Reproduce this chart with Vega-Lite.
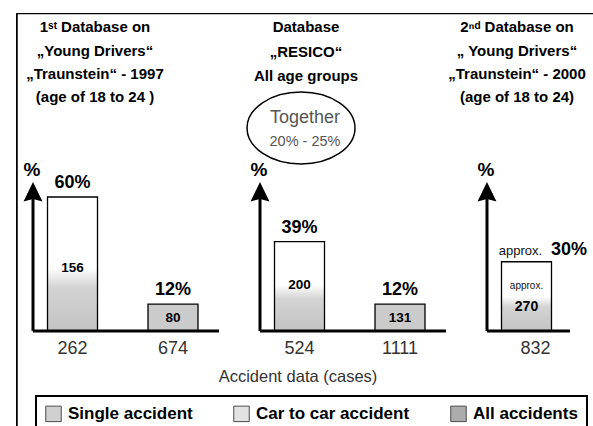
{
  "$schema": "https://vega.github.io/schema/vega-lite/v6.json",
  "autosize": {"type": "none"},
  "padding": {"left": 14, "top": 13, "right": 0, "bottom": 0},
  "width": 581,
  "height": 415,
  "background": "#ffffff",
  "datasets": {
    "bars": [
      {"panel": "P1", "slot": "a", "cases": "262", "pct": 60, "label": "60%", "n": "156", "shade": 28.2},
      {"panel": "P1", "slot": "b", "cases": "674", "pct": 12, "label": "12%", "n": "80", "shade": 12},
      {"panel": "P2", "slot": "a", "cases": "524", "pct": 40, "label": "39%", "n": "200", "shade": 20.6},
      {"panel": "P2", "slot": "b", "cases": "1111", "pct": 12, "label": "12%", "n": "131", "shade": 12},
      {"panel": "P3", "slot": "a", "cases": "832", "pct": 31, "label": "30%", "n": "270", "shade": 15.45}
    ],
    "panels": [{"panel": "P1"}, {"panel": "P2"}, {"panel": "P3"}]
  },
  "encoding": {
    "x": {"field": "panel", "type": "nominal", "axis": null,
      "scale": {"type": "band", "domain": ["P1", "P2", "P3"], "range": [2, 659], "paddingInner": 0.1057, "paddingOuter": 0}}
  },
  "layer": [
    {
      "data": {"values": [{"panel": "P1", "to": "P3"}]},
      "mark": {"type": "rect", "fillOpacity": 0, "stroke": "#000000", "strokeWidth": 1.3},
      "encoding": {
        "x": {"field": "panel", "type": "nominal", "bandPosition": 0.004},
        "x2": {"field": "to", "bandPosition": 1},
        "y": {"datum": -60, "type": "quantitative", "axis": null, "scale": {"domain": [-43.44, 142.4], "nice": false, "zero": false}},
        "y2": {"datum": 142.1}
      }
    },
    {
      "data": {"values": [{"panel": "P1"}]},
      "mark": {"type": "rule", "stroke": "#000000", "strokeWidth": 1.5},
      "encoding": {
        "x": {"field": "panel", "type": "nominal", "bandPosition": 0.004},
        "y": {"datum": -43, "type": "quantitative"},
        "y2": {"datum": 142.1}
      }
    },
    {
      "data": {"name": "bars"},
      "transform": [{"filter": "datum.pct > 20"}],
      "mark": {"type": "bar", "fill": {"gradient": "linear", "x1": 0, "y1": 0, "x2": 0, "y2": 1,
        "stops": [{"offset": 0, "color": "#ffffff"}, {"offset": 0.3, "color": "#d4d4d4"}, {"offset": 1, "color": "#c3c3c3"}]}},
      "encoding": {
        "xOffset": {"field": "slot", "type": "nominal", "scale": {"domain": ["a", "b"], "paddingInner": 0.5025, "paddingOuter": 0.2612, "align": 0.6}},
        "y": {"field": "shade", "type": "quantitative", "axis": null, "scale": {"domain": [-43.44, 142.4], "nice": false, "zero": false}},
        "y2": {"datum": 0}
      }
    },
    {
      "data": {"name": "bars"},
      "transform": [{"filter": "datum.pct <= 20"}],
      "mark": {"type": "bar", "fill": "#cbcbcb"},
      "encoding": {
        "xOffset": {"field": "slot", "type": "nominal"},
        "y": {"field": "pct", "type": "quantitative", "axis": null, "scale": {"domain": [-43.44, 142.4], "nice": false, "zero": false}},
        "y2": {"datum": 0}
      }
    },
    {
      "data": {"name": "bars"},
      "mark": {"type": "bar", "fillOpacity": 0, "stroke": "#000000", "strokeWidth": 1.3},
      "encoding": {
        "xOffset": {"field": "slot", "type": "nominal"},
        "y": {"field": "pct", "type": "quantitative", "axis": null, "scale": {"domain": [-43.44, 142.4], "nice": false, "zero": false}},
        "y2": {"datum": 0}
      }
    },
    {
      "data": {"name": "panels"},
      "transform": [{"filter": "datum.panel != 'P3'"}],
      "mark": {"type": "rule", "stroke": "#000000", "strokeWidth": 3},
      "encoding": {
        "x": {"field": "panel", "type": "nominal", "bandPosition": 0.08374},
        "x2": {"field": "panel", "bandPosition": 1},
        "y": {"datum": 0, "type": "quantitative"}
      }
    },
    {
      "data": {"name": "panels"},
      "transform": [{"filter": "datum.panel == 'P3'"}],
      "mark": {"type": "rule", "stroke": "#000000", "strokeWidth": 3},
      "encoding": {
        "x": {"field": "panel", "type": "nominal", "bandPosition": 0.08374},
        "x2": {"field": "panel", "bandPosition": 0.4926},
        "y": {"datum": 0, "type": "quantitative"}
      }
    },
    {
      "data": {"name": "panels"},
      "mark": {"type": "rule", "stroke": "#000000", "strokeWidth": 3},
      "encoding": {
        "x": {"field": "panel", "type": "nominal", "bandPosition": 0.08374},
        "y": {"datum": 0, "type": "quantitative"},
        "y2": {"datum": 62}
      }
    },
    {
      "data": {"name": "panels"},
      "mark": {"type": "point", "shape": "M0,-1L0.95,0.95L0,0.7L-0.95,0.95Z", "size": 400, "filled": true, "fill": "#000000", "opacity": 1, "strokeWidth": 0},
      "encoding": {
        "x": {"field": "panel", "type": "nominal", "bandPosition": 0.08374},
        "y": {"datum": 62.25, "type": "quantitative"}
      }
    },
    {
      "data": {"name": "panels"},
      "mark": {"type": "text", "text": "%", "font": "Liberation Sans", "fontSize": 19, "fontWeight": "bold", "baseline": "middle", "dx": -1, "color": "#000000"},
      "encoding": {
        "x": {"field": "panel", "type": "nominal", "bandPosition": 0.08374},
        "y": {"datum": 72.1, "type": "quantitative"}
      }
    },
    {
      "data": {"name": "bars"},
      "transform": [{"filter": "datum.panel != 'P3'"}],
      "mark": {"type": "text", "font": "Liberation Sans", "fontSize": 18, "fontWeight": "bold", "baseline": "middle", "dy": -14, "color": "#000000"},
      "encoding": {
        "xOffset": {"field": "slot", "type": "nominal"},
        "y": {"field": "pct", "type": "quantitative"},
        "text": {"field": "label"}
      }
    },
    {
      "data": {"name": "bars"},
      "transform": [{"filter": "datum.panel == 'P3'"}],
      "mark": {"type": "text", "font": "Liberation Sans", "fontSize": 18, "fontWeight": "bold", "baseline": "alphabetic", "dy": -6.3, "dx": 42.5, "color": "#000000"},
      "encoding": {
        "xOffset": {"field": "slot", "type": "nominal"},
        "y": {"field": "pct", "type": "quantitative"},
        "text": {"field": "label"}
      }
    },
    {
      "data": {"name": "bars"},
      "transform": [{"filter": "datum.panel == 'P3'"}],
      "mark": {"type": "text", "text": "approx.", "font": "Liberation Sans", "fontSize": 13, "baseline": "alphabetic", "dy": -6.3, "dx": -6, "color": "#111111"},
      "encoding": {
        "xOffset": {"field": "slot", "type": "nominal"},
        "y": {"field": "pct", "type": "quantitative"}
      }
    },
    {
      "data": {"name": "bars"},
      "transform": [{"filter": "datum.pct > 20 && datum.panel != 'P3'"}],
      "mark": {"type": "text", "font": "Liberation Sans", "fontSize": 13.5, "fontWeight": "bold", "baseline": "middle", "color": "#000000"},
      "encoding": {
        "xOffset": {"field": "slot", "type": "nominal"},
        "y": {"field": "shade", "type": "quantitative"},
        "text": {"field": "n"}
      }
    },
    {
      "data": {"name": "bars"},
      "transform": [{"filter": "datum.pct <= 20"}],
      "mark": {"type": "text", "font": "Liberation Sans", "fontSize": 13.5, "fontWeight": "bold", "baseline": "middle", "dy": 14, "color": "#000000"},
      "encoding": {
        "xOffset": {"field": "slot", "type": "nominal"},
        "y": {"field": "pct", "type": "quantitative"},
        "text": {"field": "n"}
      }
    },
    {
      "data": {"name": "bars"},
      "transform": [{"filter": "datum.panel == 'P3'"}],
      "mark": {"type": "text", "font": "Liberation Sans", "fontSize": 14, "fontWeight": "bold", "baseline": "middle", "dy": 10.5, "color": "#000000"},
      "encoding": {
        "xOffset": {"field": "slot", "type": "nominal"},
        "y": {"field": "shade", "type": "quantitative"},
        "text": {"field": "n"}
      }
    },
    {
      "data": {"name": "bars"},
      "transform": [{"filter": "datum.panel == 'P3'"}],
      "mark": {"type": "text", "text": "approx.", "font": "Liberation Sans", "fontSize": 10, "baseline": "middle", "dy": -10.5, "color": "#111111"},
      "encoding": {
        "xOffset": {"field": "slot", "type": "nominal"},
        "y": {"field": "shade", "type": "quantitative"}
      }
    },
    {
      "data": {"name": "bars"},
      "transform": [{"filter": "datum.panel != 'P3'"}],
      "mark": {"type": "text", "font": "Liberation Sans", "fontSize": 18, "baseline": "middle", "color": "#333333"},
      "encoding": {
        "xOffset": {"field": "slot", "type": "nominal"},
        "y": {"datum": -8.06, "type": "quantitative"},
        "text": {"field": "cases"}
      }
    },
    {
      "data": {"name": "bars"},
      "transform": [{"filter": "datum.panel == 'P3'"}],
      "mark": {"type": "text", "font": "Liberation Sans", "fontSize": 18, "baseline": "middle", "dx": 9, "color": "#333333"},
      "encoding": {
        "xOffset": {"field": "slot", "type": "nominal"},
        "y": {"datum": -8.06, "type": "quantitative"},
        "text": {"field": "cases"}
      }
    },
    {
      "data": {"values": [{"panel": "P1"}]},
      "mark": {"type": "text", "text": ["1ˢᵗ Database on", "„Young Drivers“", "„Traunstein“ - 1997", "(age of 18 to 24 )"], "font": "Liberation Sans", "fontSize": 15, "fontWeight": "bold", "baseline": "alphabetic", "lineHeight": 23.3, "color": "#000000"},
      "encoding": {
        "x": {"field": "panel", "type": "nominal", "bandPosition": 0.389},
        "y": {"datum": 133.68, "type": "quantitative"}
      }
    },
    {
      "data": {"values": [{"panel": "P2"}]},
      "mark": {"type": "text", "text": ["Database", "„RESICO“", "All age groups"], "font": "Liberation Sans", "fontSize": 15, "fontWeight": "bold", "baseline": "alphabetic", "lineHeight": 24.5, "color": "#000000"},
      "encoding": {
        "x": {"field": "panel", "type": "nominal", "bandPosition": 0.3103},
        "y": {"datum": 133.68, "type": "quantitative"}
      }
    },
    {
      "data": {"values": [{"panel": "P3"}]},
      "mark": {"type": "text", "text": ["2ⁿᵈ Database on", "„ Young Drivers“", "„Traunstein“ - 2000", "(age of 18 to 24)"], "font": "Liberation Sans", "fontSize": 15, "fontWeight": "bold", "baseline": "alphabetic", "lineHeight": 23.3, "color": "#000000"},
      "encoding": {
        "x": {"field": "panel", "type": "nominal", "bandPosition": 0.2315},
        "y": {"datum": 133.68, "type": "quantitative"}
      }
    },
    {
      "data": {"values": [{"panel": "P2"}]},
      "mark": {"type": "point", "shape": "M-1,0C-1,-0.368,-0.552,-0.667,0,-0.667C0.552,-0.667,1,-0.368,1,0C1,0.368,0.552,0.667,0,0.667C-0.552,0.667,-1,0.368,-1,0Z", "size": 11664, "filled": false, "stroke": "#000000", "strokeWidth": 1.5, "opacity": 1},
      "encoding": {
        "x": {"field": "panel", "type": "nominal", "bandPosition": 0.2857},
        "y": {"datum": 90.9, "type": "quantitative"}
      }
    },
    {
      "data": {"values": [{"panel": "P2"}]},
      "mark": {"type": "text", "text": "Together", "font": "Liberation Sans", "fontSize": 18, "baseline": "middle", "color": "#555555"},
      "encoding": {
        "x": {"field": "panel", "type": "nominal", "bandPosition": 0.3054},
        "y": {"datum": 95.4, "type": "quantitative"}
      }
    },
    {
      "data": {"values": [{"panel": "P2"}]},
      "mark": {"type": "text", "text": "20% - 25%", "font": "Liberation Sans", "fontSize": 14.5, "baseline": "middle", "color": "#555555"},
      "encoding": {
        "x": {"field": "panel", "type": "nominal", "bandPosition": 0.3054},
        "y": {"datum": 84.6, "type": "quantitative"}
      }
    },
    {
      "data": {"values": [{"panel": "P2"}]},
      "mark": {"type": "text", "text": "Accident data (cases)", "font": "Liberation Sans", "fontSize": 16.5, "baseline": "middle", "color": "#333333"},
      "encoding": {
        "x": {"field": "panel", "type": "nominal", "bandPosition": 0.2709},
        "y": {"datum": -20.6, "type": "quantitative"}
      }
    },
    {
      "data": {"values": [{"type": "Single accident"}, {"type": "Car to car accident"}, {"type": "All accidents"}]},
      "mark": {"type": "point", "shape": "square", "filled": true, "clip": true, "stroke": "#000000", "strokeWidth": 1},
      "encoding": {
        "x": {"datum": "P1", "type": "nominal"},
        "y": {"datum": -60, "type": "quantitative"},
        "color": {"field": "type", "type": "nominal",
          "scale": {"domain": ["Single accident", "Car to car accident", "All accidents"], "range": ["#bdbdbd", "#d6d6d6", "#8a8a8a"]},
          "legend": {"title": null, "orient": "none", "legendX": 22, "legendY": 383, "direction": "horizontal",
            "symbolType": "square", "symbolSize": 240, "symbolStrokeColor": "#000000", "symbolStrokeWidth": 1,
            "labelFont": "Liberation Sans", "labelFontSize": 17, "labelFontWeight": "bold", "labelColor": "#000000",
            "labelOffset": 6, "columnPadding": 38, "padding": 9, "strokeColor": "#000000", "labelLimit": 300}}
      }
    }
  ],
  "config": {
    "view": {"stroke": null},
    "axis": {"disable": true},
    "legend": {"strokeWidth": 2},
    "font": "Liberation Sans"
  }
}
